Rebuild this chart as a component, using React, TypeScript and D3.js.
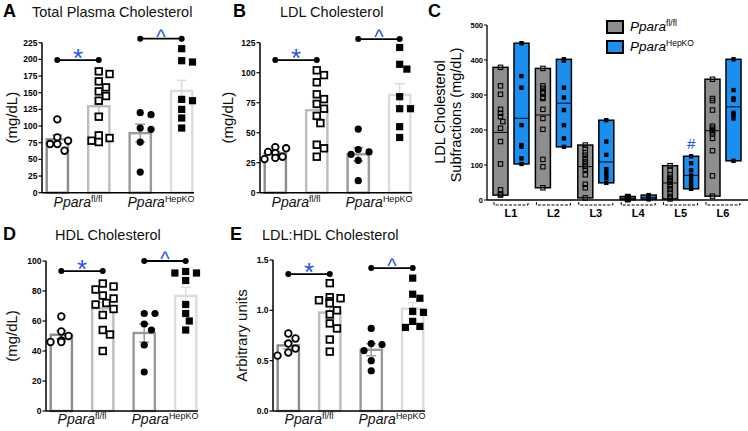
import React from "react";
import * as d3 from "d3";

// ---- data ----
const groupKeys = ["flfl-1", "flfl-2", "hepko-1", "hepko-2"];
const genotypes = ["fl/fl", "HepKO"];

const totalCholesterol = [
  [110, 83, 78, 73, 73, 63],
  [182, 178, 167, 158, 152, 145, 138, 114, 86, 82, 78, 76],
  [120, 117, 97, 95, 76, 31],
  [216, 198, 196, 140, 138, 125, 112, 97],
];
const ldlCholesterol = [
  [38, 37, 34, 33, 30, 29, 28],
  [102, 98, 92, 82, 78, 74, 70, 64, 58, 40, 37, 30],
  [53, 36, 34, 32, 27, 10],
  [121, 103, 107, 80, 70, 70, 55, 46],
];
const hdlCholesterol = [
  [63, 53, 50, 47, 46, 46],
  [85, 83, 81, 77, 75, 72, 71, 68, 64, 54, 51, 40],
  [65, 65, 58, 54, 44, 26],
  [93, 92, 92, 87, 71, 65, 60, 54],
];
const ldlHdlRatio = [
  [0.77, 0.72, 0.67, 0.62, 0.58, 0.55],
  [1.27, 1.13, 1.12, 1.1, 1.09, 1.07, 1.0, 0.96, 0.87, 0.82, 0.71, 0.59],
  [0.82, 0.67, 0.66, 0.6, 0.5, 0.4],
  [1.32, 1.16, 1.12, 0.99, 0.98, 0.89, 0.84, 0.83],
];

const subfractions = ["L1", "L2", "L3", "L4", "L5", "L6"];
const subFlfl = [
  [379, 326, 302, 259, 248, 238, 224, 205, 167, 103, 29, 17, 14],
  [376, 326, 319, 309, 305, 293, 290, 259, 233, 202, 116, 95, 35],
  [157, 148, 135, 128, 118, 110, 103, 96, 88, 72, 45, 35, 6],
  [10, 9, 8, 7, 6, 5, 5, 4, 3, 3, 2, 2, 1],
  [98, 85, 72, 65, 60, 55, 52, 45, 38, 30, 20, 10, 3],
  [345, 290, 284, 257, 211, 205, 200, 195, 189, 176, 141, 69, 11],
];
const subHepko = [
  [448, 354, 321, 214, 157, 152, 119, 103],
  [402, 398, 321, 293, 257, 214, 176, 152],
  [228, 167, 129, 88, 78, 69, 62, 49],
  [14, 10, 8, 6, 5, 4, 3, 2],
  [125, 105, 85, 70, 58, 48, 40, 32],
  [402, 314, 290, 286, 249, 243, 233, 112],
];

// ---- styles ----
const font = "'Liberation Sans', Arial, Helvetica, sans-serif";
const sigBlue = "#2451e6";
const koBlue = "#1b8ff0";
const groupStyles = [
  { stroke: "#8c8c8c", shape: "circle", filled: false },
  { stroke: "#bdbdbd", shape: "square", filled: false },
  { stroke: "#9a9a9a", shape: "circle", filled: true },
  { stroke: "#dcdcdc", shape: "square", filled: true },
];

// simple dodge so the dots don't sit on top of each other
function dodge(vals: number[], y: (v: number) => number, r: number, maxOff: number) {
  const order = vals.map((_, i) => i).sort((a, b) => vals[b] - vals[a]);
  const placed: { x: number; y: number }[] = [];
  const out: number[] = new Array(vals.length).fill(0);
  for (const i of order) {
    const py = y(vals[i]);
    let best = 0;
    for (let s = 0; s < 30; s++) {
      const cand = s === 0 ? 0 : (s % 2 ? 1 : -1) * Math.ceil(s / 2) * r * 0.9;
      if (Math.abs(cand) > maxOff) continue;
      if (placed.every((p) => Math.hypot(p.x - cand, p.y - py) >= 2 * r)) {
        best = cand;
        break;
      }
    }
    placed.push({ x: best, y: py });
    out[i] = best;
  }
  return out;
}

const GenoLabel = ({ x, y, sup }: any) => (
  <text x={x} y={y} textAnchor="middle" fontFamily={font} fontSize={14} fill="#111">
    <tspan fontStyle="italic">Ppara</tspan>
    <tspan fontSize={9} baselineShift="55%">{sup}</tspan>
  </text>
);

const DotBarPanel = ({ cfg, data }: any) => {
  const y = d3.scaleLinear().domain(cfg.domain).range([cfg.yBottom, cfg.yTop]);
  const x = d3
    .scaleBand()
    .domain(groupKeys)
    .range([cfg.axisX + 3.5, cfg.axisX + 151.5])
    .paddingInner(0.43);
  const bw = x.bandwidth();
  const ticks = d3.range(cfg.domain[0], cfg.domain[1] + cfg.tickStep / 2, cfg.tickStep);
  const cx = (k: string) => (x(k) as number) + bw / 2;
  const pairs = [
    [groupKeys[0], groupKeys[1], "*"],
    [groupKeys[2], groupKeys[3], "^"],
  ];
  return (
    <g>
      <text x={cfg.letterX} y={cfg.titleY} fontFamily={font} fontWeight="bold" fontSize={18}>
        {cfg.letter}
      </text>
      <text x={cfg.titleX} y={cfg.titleY} fontFamily={font} fontSize={14.5} fill="#111">
        {cfg.title}
      </text>
      <text
        transform={`translate(${cfg.yLabelX},${(cfg.yTop + cfg.yBottom) / 2}) rotate(-90)`}
        textAnchor="middle"
        dominantBaseline="middle"
        fontFamily={font}
        fontSize={15}
        fill="#111"
      >
        {cfg.yLabel}
      </text>

      {data.map((vals: number[], i: number) => {
        const k = groupKeys[i];
        const st = groupStyles[i];
        const m = d3.mean(vals) as number;
        const sem = (d3.deviation(vals) as number) / Math.sqrt(vals.length);
        const c = cx(k);
        return (
          <g key={k}>
            <rect
              x={(x(k) as number) + 1.2}
              y={y(m)}
              width={bw - 2.4}
              height={y(0) - y(m)}
              fill="#fff"
              stroke={st.stroke}
              strokeWidth={2.4}
            />
            <line x1={c} x2={c} y1={y(m - sem)} y2={y(m + sem)} stroke={st.stroke} strokeWidth={1.5} />
            <line x1={c - 5} x2={c + 5} y1={y(m + sem)} y2={y(m + sem)} stroke={st.stroke} strokeWidth={1.5} />
            <line x1={c - 5} x2={c + 5} y1={y(m - sem)} y2={y(m - sem)} stroke={st.stroke} strokeWidth={1.5} />
          </g>
        );
      })}

      {data.map((vals: number[], i: number) => {
        const k = groupKeys[i];
        const st = groupStyles[i];
        const offs = dodge(vals, y, 4, 11);
        const c = cx(k);
        return (
          <g key={k + "pts"}>
            {vals.map((v, j) =>
              st.shape === "circle" ? (
                <circle
                  key={j}
                  cx={c + offs[j]}
                  cy={y(v)}
                  r={st.filled ? 3.6 : 3.3}
                  fill={st.filled ? "#000" : "#fff"}
                  stroke="#000"
                  strokeWidth={st.filled ? 0 : 1.8}
                />
              ) : (
                <rect
                  key={j}
                  x={c + offs[j] - (st.filled ? 3.6 : 3.3)}
                  y={y(v) - (st.filled ? 3.6 : 3.3)}
                  width={st.filled ? 7.2 : 6.6}
                  height={st.filled ? 7.2 : 6.6}
                  fill={st.filled ? "#000" : "#fff"}
                  stroke="#000"
                  strokeWidth={st.filled ? 0 : 1.8}
                />
              )
            )}
          </g>
        );
      })}

      {/* axes */}
      <line x1={cfg.axisX} x2={cfg.axisX} y1={y(cfg.domain[1])} y2={y(0)} stroke="#000" strokeWidth={1.5} />
      <line x1={cfg.axisX} x2={cfg.axisX + 152} y1={y(0)} y2={y(0)} stroke="#000" strokeWidth={1.5} />
      {ticks.map((t: number) => (
        <g key={t}>
          <line x1={cfg.axisX - 3.5} x2={cfg.axisX} y1={y(t)} y2={y(t)} stroke="#000" strokeWidth={1.2} />
          <text
            x={cfg.axisX - 4.5}
            y={y(t)}
            textAnchor="end"
            dominantBaseline="central"
            fontFamily={font}
            fontWeight="bold"
            fontSize={8.5}
          >
            {cfg.fmt(t)}
          </text>
        </g>
      ))}

      {/* significance brackets */}
      {pairs.map(([a, b, sym], i) => {
        const ly = y(cfg.sig[i]);
        const x1 = cx(a);
        const x2 = cx(b);
        return (
          <g key={"sig" + i}>
            <line x1={x1} x2={x2} y1={ly} y2={ly} stroke="#000" strokeWidth={1.8} />
            <circle cx={x1} cy={ly} r={3} fill="#000" />
            <circle cx={x2} cy={ly} r={3} fill="#000" />
            <text
              x={(x1 + x2) / 2}
              y={sym === "*" ? ly + 7 : ly + 5}
              textAnchor="middle"
              fontFamily={font}
              fontSize={sym === "*" ? 26 : 20}
              fill={sigBlue}
            >
              {sym}
            </text>
          </g>
        );
      })}

      <GenoLabel x={(cx(groupKeys[0]) + cx(groupKeys[1])) / 2} y={cfg.catY} sup={genotypes[0]} />
      <GenoLabel x={(cx(groupKeys[2]) + cx(groupKeys[3])) / 2} y={cfg.catY} sup={genotypes[1]} />
    </g>
  );
};

const SubfractionPanel = () => {
  const x0 = d3.scaleBand().domain(subfractions).range([489.8, 744.2]);
  const x1 = d3
    .scaleBand()
    .domain(genotypes)
    .range([0, x0.bandwidth()])
    .paddingInner(0.2857)
    .paddingOuter(0.152);
  const y = d3.scaleLinear().domain([0, 500]).range([200, 25]);
  const ticks = d3.range(0, 501, 100);
  const bw = x1.bandwidth();
  const series = [subFlfl, subHepko];

  return (
    <g>
      <text x={428} y={17} fontFamily={font} fontWeight="bold" fontSize={18}>
        C
      </text>
      <text
        transform={`translate(441,112) rotate(-90)`}
        textAnchor="middle"
        dominantBaseline="middle"
        fontFamily={font}
        fontSize={14.5}
      >
        LDL Cholesterol
      </text>
      <text
        transform={`translate(457,115) rotate(-90)`}
        textAnchor="middle"
        dominantBaseline="middle"
        fontFamily={font}
        fontSize={14.5}
      >
        Subfractions (mg/dL)
      </text>

      {subfractions.map((s, si) =>
        series.map((ser, gi) => {
          const vals = ser[si];
          const bx = (x0(s) as number) + (x1(genotypes[gi]) as number);
          const c = bx + bw / 2;
          const lo = d3.min(vals) as number;
          const hi = d3.max(vals) as number;
          const m = d3.mean(vals) as number;
          const offs = dodge(vals, y, 2.6, 4.5);
          return (
            <g key={s + gi}>
              <rect
                x={bx}
                y={y(hi)}
                width={bw}
                height={Math.max(y(lo) - y(hi), 3)}
                fill={gi === 0 ? "#8e8e8e" : koBlue}
                stroke="#000"
                strokeWidth={1.5}
              />
              <line x1={bx} x2={bx + bw} y1={y(m)} y2={y(m)} stroke="#000" strokeWidth={1} />
              {vals.map((v, j) => (
                <rect
                  key={j}
                  x={c + offs[j] - 2.2}
                  y={y(v) - 2.2}
                  width={4.4}
                  height={4.4}
                  fill={gi === 0 ? "none" : "#000"}
                  stroke="#000"
                  strokeWidth={gi === 0 ? 1.1 : 0}
                />
              ))}
              {s === "L5" && gi === 1 && (
                <text x={c} y={y(hi) - 7} textAnchor="middle" fontFamily={font} fontSize={15} fill={sigBlue}>
                  #
                </text>
              )}
            </g>
          );
        })
      )}

      <line x1={487} x2={487} y1={y(500)} y2={y(0)} stroke="#000" strokeWidth={1.3} />
      <line x1={487} x2={748} y1={y(0)} y2={y(0)} stroke="#000" strokeWidth={1.3} />
      {ticks.map((t) => (
        <g key={t}>
          <line x1={484} x2={487} y1={y(t)} y2={y(t)} stroke="#000" strokeWidth={1} />
          <text
            x={483}
            y={y(t)}
            textAnchor="end"
            dominantBaseline="central"
            fontFamily={font}
            fontWeight="bold"
            fontSize={7.5}
          >
            {t}
          </text>
        </g>
      ))}

      {subfractions.map((s) => {
        const mid = (x0(s) as number) + x0.bandwidth() / 2;
        return (
          <g key={s + "lab"}>
            <path
              d={`M${mid - 17},${y(0) + 2}V${y(0) + 5}H${mid + 17}V${y(0) + 2}`}
              fill="none"
              stroke="#000"
              strokeWidth={1}
              strokeDasharray="3,1.5"
            />
            <text x={mid} y={y(0) + 17} textAnchor="middle" fontFamily={font} fontWeight="bold" fontSize={11}>
              {s}
            </text>
          </g>
        );
      })}

      {genotypes.map((g, i) => (
        <g key={g}>
          <rect
            x={607}
            y={21 + i * 20}
            width={16}
            height={12}
            fill={i === 0 ? "#8e8e8e" : koBlue}
            stroke="#000"
            strokeWidth={2}
          />
          <text x={630} y={31 + i * 20} fontFamily={font} fontSize={13.5}>
            <tspan fontStyle="italic">Ppara</tspan>
            <tspan fontSize={8.5} baselineShift="55%">{g}</tspan>
          </text>
        </g>
      ))}
    </g>
  );
};

const panelA = {
  letter: "A", title: "Total Plasma Cholesterol", letterX: 3, titleX: 32, titleY: 17,
  axisX: 42, yTop: 42.7, yBottom: 192.7, domain: [0, 225], tickStep: 25, fmt: d3.format("d"),
  yLabel: "(mg/dL)", yLabelX: 13, sig: [199, 231], catY: 207,
};
const panelB = {
  letter: "B", title: "LDL Cholesterol", letterX: 233, titleX: 280, titleY: 17,
  axisX: 260, yTop: 42.7, yBottom: 192.7, domain: [0, 125], tickStep: 25, fmt: d3.format("d"),
  yLabel: "(mg/dL)", yLabelX: 229, sig: [110.5, 128], catY: 207,
};
const panelD = {
  letter: "D", title: "HDL Cholesterol", letterX: 3, titleX: 55, titleY: 240,
  axisX: 46, yTop: 261, yBottom: 411, domain: [0, 100], tickStep: 20, fmt: d3.format("d"),
  yLabel: "(mg/dL)", yLabelX: 13, sig: [93.3, 100], catY: 424,
};
const panelE = {
  letter: "E", title: "LDL:HDL Cholesterol", letterX: 230, titleX: 262, titleY: 240,
  axisX: 273, yTop: 260, yBottom: 411, domain: [0, 1.5], tickStep: 0.5, fmt: d3.format(".1f"),
  yLabel: "Arbitrary units", yLabelX: 243, sig: [1.36, 1.42], catY: 424,
};

export default function App() {
  return (
    <svg
      width={748}
      height={431}
      viewBox="0 0 748 431"
      style={{ position: "absolute", left: 0, top: 0, background: "#fff" }}
    >
      <rect width={748} height={431} fill="#fff" />
      <DotBarPanel cfg={panelA} data={totalCholesterol} />
      <DotBarPanel cfg={panelB} data={ldlCholesterol} />
      <DotBarPanel cfg={panelD} data={hdlCholesterol} />
      <DotBarPanel cfg={panelE} data={ldlHdlRatio} />
      <SubfractionPanel />
    </svg>
  );
}
